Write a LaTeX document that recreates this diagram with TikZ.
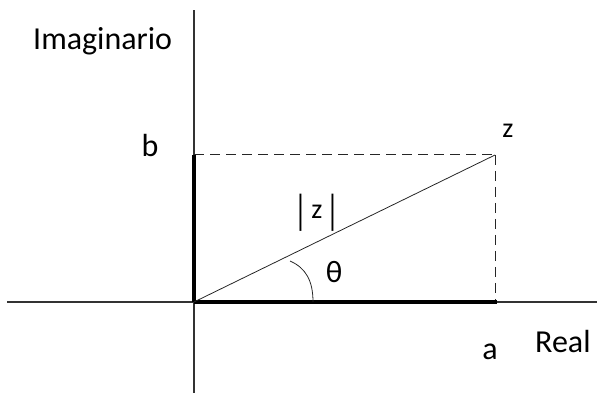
\documentclass[tikz,border=0pt]{standalone}
\usepackage{fontspec}
\usepackage{graphicx}
\setmainfont{Carlito}
\begin{document}
\begin{tikzpicture}[x=1pt,y=1pt,
  axisline/.style={line width=1.5pt, black!80},
  thickline/.style={line width=4pt, black, line cap=butt},
  dashline/.style={line width=1pt, dash pattern=on 10pt off 6pt, black!85},
  thinline/.style={line width=0.8pt, black!85},
  bigtxt/.style={inner sep=0pt, font=\fontsize{32}{32}\selectfont},
  smalltxt/.style={inner sep=0pt, font=\fontsize{28}{28}\selectfont}]
\useasboundingbox (0,0) rectangle (597,393);
\coordinate (O) at (194,91);
\coordinate (B) at (194,238);
\coordinate (Z) at (495,238);
\coordinate (A) at (495,91);
\coordinate (Yt) at (194,383);
\coordinate (Yb) at (194,0);
\coordinate (Xl) at (7,91);
\coordinate (Xr) at (597,91);
\coordinate (Aend) at (497,91);
\coordinate (ArcS) at (313,91);
\coordinate (ArcE) at (290,132);
% axes
\draw[axisline] (Yb) -- (Yt);
\draw[axisline] (Xl) -- (Xr);
% dashed
\draw[dashline] (B) -- (Z);
\draw[dashline] (Z) -- (A);
% thick
\draw[thickline] (O) -- (B);
\draw[thickline] (O) -- (Aend);
% diagonal
\draw[thinline] (O) -- (Z);
% angle arc
\draw[thinline] (ArcS) .. controls (313,112) and (306,125) .. (ArcE);
% labels
\node[bigtxt, anchor=base west] (imag) at (33,343) {Imaginario};
\node[bigtxt, anchor=base] (lb) at (150,236) {b};
\node[smalltxt, anchor=base] (lz) at (508,255) {z};
\node[smalltxt, anchor=base] (mod) at (317,174) {\raisebox{-6pt}{\scalebox{1}[1.5]{|}}\hspace{4pt}z\hspace{4pt}\raisebox{-6pt}{\scalebox{1}[1.5]{|}}};
\node[inner sep=0pt, font=\fontsize{31}{31}\selectfont, anchor=base] (th) at (334,110) {θ};
\node[bigtxt, anchor=base] (la) at (490,33) {a};
\node[bigtxt, anchor=base west] (real) at (535,40) {Real};
\end{tikzpicture}
\end{document}
